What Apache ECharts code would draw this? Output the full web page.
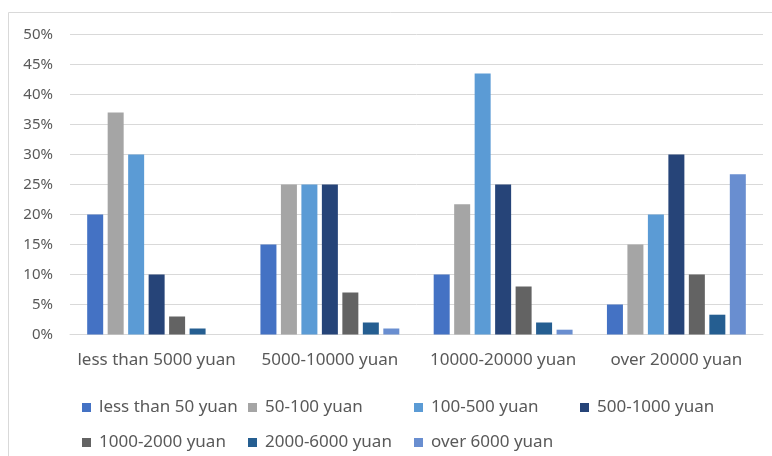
<!DOCTYPE html>
<html>
<head>
<meta charset="utf-8">
<script src="https://cdn.jsdelivr.net/npm/echarts@6/dist/echarts.min.js"></script>
<style>
  html, body { margin: 0; padding: 0; background: #fff; }
  #chart { width: 772px; height: 456px; }
</style>
</head>
<body>
<div id="chart"></div>
<script>
// Monthly income groups (x-axis categories)
const incomeGroups = ['less than 5000 yuan', '5000-10000 yuan', '10000-20000 yuan', 'over 20000 yuan'];

// Spending brackets (one series each), share in percent per income group
const lessThan50 = [20, 15, 10, 5];
const from50to100 = [37, 25, 21.7, 15];
const from100to500 = [30, 25, 43.5, 20];
const from500to1000 = [10, 25, 25, 30];
const from1000to2000 = [3, 7, 8, 10];
const from2000to6000 = [1, 2, 2, 3.3];
const over6000 = [0, 1, 0.8, 26.7];

const seriesNames = ['less than 50 yuan', '50-100 yuan', '100-500 yuan', '500-1000 yuan',
                     '1000-2000 yuan', '2000-6000 yuan', 'over 6000 yuan'];
const seriesValues = [lessThan50, from50to100, from100to500, from500to1000,
                      from1000to2000, from2000to6000, over6000];
const seriesColors = ['#4472C4', '#A5A5A5', '#5B9BD5', '#264478', '#636363', '#255E91', '#698ED0'];

// Y-axis ticks (percent)
const yMin = 0, yMax = 50, yStep = 5;

const font = '"Noto Sans", "Open Sans", sans-serif';
const textColor = '#595959';

const chart = echarts.init(document.getElementById('chart'), null, { renderer: 'canvas' });

// Legend laid out as a fixed grid: four columns, two rows
const legendCols = [77, 243, 409, 575];
const legendRows = [394, 429];
const legends = seriesNames.map((name, i) => ({
  data: [name],
  left: legendCols[i % 4],
  top: legendRows[Math.floor(i / 4)],
  icon: 'rect', itemWidth: 9, itemHeight: 9,
  selectedMode: false,
  textStyle: { color: textColor, fontFamily: font, fontSize: 17, padding: [0, 0, 0, 3] }
}));

chart.setOption({
  animation: false,
  color: seriesColors,
  graphic: [{
    type: 'rect',
    shape: { x: 8.5, y: 12.5, width: 800, height: 500 },
    style: { fill: 'none', stroke: '#D9D9D9', lineWidth: 1 },
    silent: true
  }],
  legend: legends,
  grid: { left: 70, right: 9, top: 34.5, bottom: 121.5, containLabel: false },
  xAxis: {
    type: 'category',
    data: incomeGroups,
    axisTick: { show: false },
    axisLine: { lineStyle: { color: '#D9D9D9', width: 1 } },
    axisLabel: { interval: 0, color: textColor, fontFamily: font, fontSize: 17, margin: 17 }
  },
  yAxis: {
    type: 'value',
    min: yMin, max: yMax, interval: yStep,
    axisLine: { show: false },
    axisTick: { show: false },
    axisLabel: { formatter: '{value}%', color: textColor, fontFamily: font, fontSize: 15, margin: 17 },
    splitLine: { lineStyle: { color: '#D9D9D9', width: 1 } }
  },
  series: seriesNames.map((name, i) => ({
    name: name,
    type: 'bar',
    data: seriesValues[i],
    barWidth: 16,
    barGap: '28%',
    itemStyle: { color: seriesColors[i] }
  }))
});
</script>
</body>
</html>
